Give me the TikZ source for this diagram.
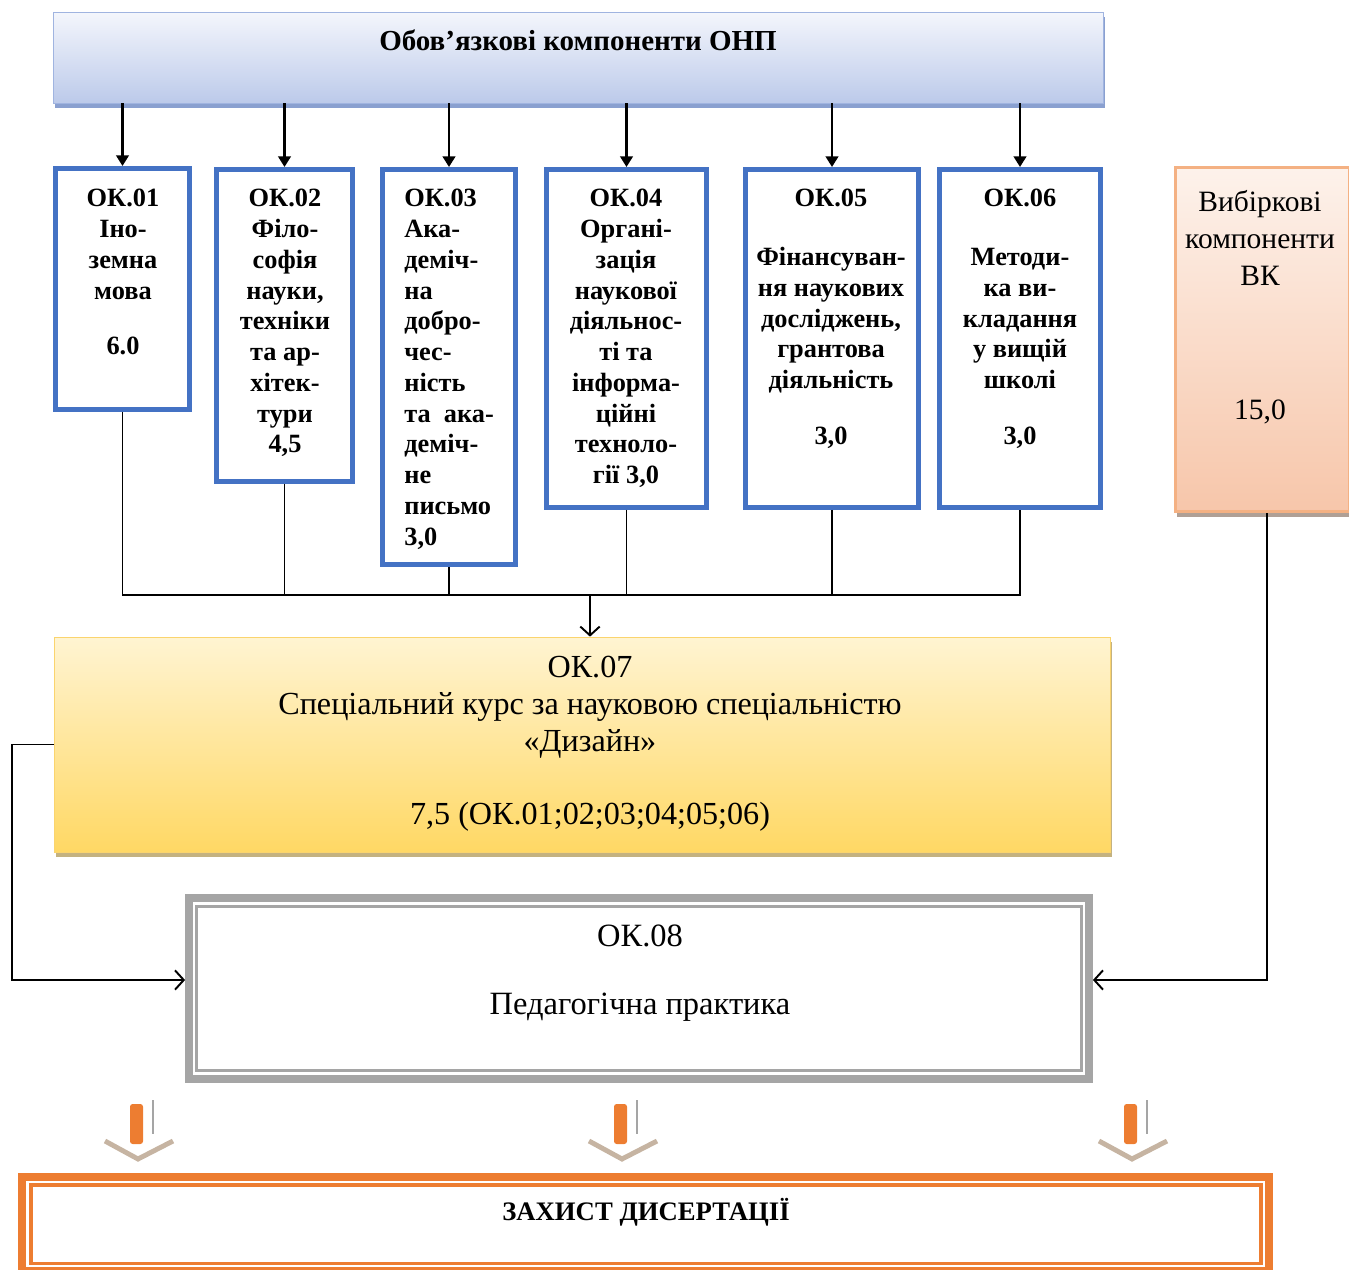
\documentclass[tikz,border=0pt]{standalone}
\usepackage{fontspec}
\setmainfont{Liberation Serif}
\usetikzlibrary{arrows.meta,shadows}
\definecolor{okblue}{RGB}{68,114,196}
\definecolor{toptop}{RGB}{244,246,252}
\definecolor{topbot}{RGB}{188,202,234}
\definecolor{topline}{RGB}{160,180,224}
\definecolor{topshade}{RGB}{138,160,208}
\definecolor{ylwtop}{RGB}{255,244,210}
\definecolor{ylwbot}{RGB}{255,216,100}
\definecolor{ylwline}{RGB}{250,212,110}
\definecolor{ylwshade}{RGB}{196,178,128}
\definecolor{vktop}{RGB}{253,242,235}
\definecolor{vkbot}{RGB}{247,198,170}
\definecolor{vkline}{RGB}{244,177,131}
\definecolor{vkshade}{RGB}{176,160,150}
\definecolor{okgrey}{RGB}{165,165,165}
\definecolor{orng}{RGB}{237,125,49}
\definecolor{chev}{RGB}{198,180,162}
\begin{document}
\begin{tikzpicture}[x=0.02cm,y=-0.02cm,
  okbox/.style={draw=okblue,line width=0.1cm,fill=white,inner sep=0pt},
  oktext/.style={anchor=north,align=center,inner sep=0pt,font=\fontsize{15}{17.5}\selectfont\bfseries},
  down/.style={line width=1.6pt,-{Triangle[length=6pt,width=7pt]}},
  link/.style={line width=0.8pt},
  barb/.style={line width=1.1pt,-{Straight Barb[length=5pt,width=11pt]}},
  stem/.style={fill=orng,rounded corners=1.5pt},
  stemline/.style={draw=okgrey,line width=1pt},
  chevron/.style={draw=chev,line width=2.8pt}]
\clip (0,0) rectangle (1349,1270);
\coordinate (bus) at (590,595);
\coordinate (inl) at (12,980);
\coordinate (inr) at (1267,980);

  \node (top) at (578,57.5) [draw=topline,top color=toptop,bottom color=topbot,minimum width=21cm,minimum height=1.82cm,
    drop shadow={shadow xshift=0.04cm,shadow yshift=-0.1cm,fill=topshade,opacity=1}] {};
  \node (title) at (578,40) [font=\fontsize{16.5}{19}\selectfont\bfseries] {Обов’язкові компоненти ОНП};

  \node (ok1) at (122.5,289) [okbox,minimum width=2.68cm,minimum height=4.82cm] {};
  \node (ok2) at (284.5,325.5) [okbox,minimum width=2.72cm,minimum height=6.24cm] {};
  \node (ok3) at (449,367) [okbox,minimum width=2.66cm,minimum height=7.9cm] {};
  \node (ok4) at (626.5,338.5) [okbox,minimum width=3.2cm,minimum height=6.76cm] {};
  \node (ok5) at (832,338.5) [okbox,minimum width=3.46cm,minimum height=6.76cm] {};
  \node (ok6) at (1020,338.5) [okbox,minimum width=3.22cm,minimum height=6.76cm] {};

  \node (ok1t) at (123,189) [oktext] {ОК.01\\Іно-\\земна\\мова\\[0.5cm]6.0};
  \node (ok2t) at (285,189) [oktext] {ОК.02\\Філо-\\софія\\науки,\\техніки\\та ар-\\хітек-\\тури\\4,5};
  \node (ok3t) at (404,189) [oktext,anchor=north west,align=left] {ОК.03\\Ака-\\деміч-\\на\\добро-\\чес-\\ність\\та\ \ ака-\\деміч-\\не\\письмо\\3,0};
  \node (ok4t) at (626,189) [oktext] {ОК.04\\Органі-\\зація\\наукової\\діяльнос-\\ті та\\інформа-\\ційні\\техноло-\\гії 3,0};
  \node (ok5t) at (831,189) [oktext] {ОК.05\\[0.56cm]Фінансуван-\\ня наукових\\досліджень,\\грантова\\діяльність\\[0.5cm]3,0};
  \node (ok6t) at (1020,189) [oktext] {ОК.06\\[0.56cm]Методи-\\ка ви-\\кладання\\у вищій\\школі\\[0.5cm]3,0};

  \node (vk) at (1262.5,339.5) [draw=vkline,line width=0.06cm,top color=vktop,bottom color=vkbot,minimum width=3.5cm,minimum height=6.9cm,
    drop shadow={shadow xshift=0.04cm,shadow yshift=-0.1cm,fill=vkshade,opacity=1}] {};
  \node (vkt) at (1260,190) [anchor=north,align=center,inner sep=0pt,font=\fontsize{16.8}{21}\selectfont] {Вибіркові\\компоненти\\ВК\\[1.94cm]15,0};

  \node (ok7) at (582,744.5) [draw=ylwline,top color=ylwtop,bottom color=ylwbot,minimum width=21.12cm,minimum height=4.3cm,
    drop shadow={shadow xshift=0.04cm,shadow yshift=-0.1cm,fill=ylwshade,opacity=1}] {};
  \node (ok7t) at (590,656) [anchor=north,align=center,inner sep=0pt,font=\fontsize{18.3}{21}\selectfont] {ОК.07\\Спеціальний курс за науковою спеціальністю\\«Дизайн»\\[0.72cm]7,5 (ОК.01;02;03;04;05;06)};

  \node (ok8) at (639,988.25) [draw=okgrey,line width=0.16cm,fill=white,minimum width=18cm,minimum height=3.63cm] {};
  \node (ok8in) at (639,988.5) [draw=okgrey,line width=0.06cm,minimum width=17.69cm,minimum height=3.3cm] {};
  \node (ok8t) at (640,925) [anchor=north,align=center,inner sep=0pt,font=\fontsize{18.5}{21}\selectfont] {ОК.08\\[0.62cm]Педагогічна практика};

  \node (def) at (645.5,1224) [draw=orng,line width=0.16cm,minimum width=24.94cm,minimum height=1.88cm] {};
  \node (defin) at (646,1224) [draw=orng,line width=0.07cm,minimum width=24.61cm,minimum height=1.57cm] {};
  \node (deft) at (646,1212) [font=\fontsize{15.2}{17}\selectfont\bfseries] {ЗАХИСТ ДИСЕРТАЦІЇ};

  \draw[down] (top.south -| ok1.north) to[] (ok1.north);
  \draw[down] (top.south -| ok2.north) to[] (ok2.north);
  \draw[down] (top.south -| ok3.north) to[] (ok3.north);
  \draw[down] (top.south -| ok4.north) to[] (ok4.north);
  \draw[down] (top.south -| ok5.north) to[] (ok5.north);
  \draw[down] (top.south -| ok6.north) to[] (ok6.north);

  \draw[link] (ok1.south) -- (ok1.south |- bus) -- (ok6.south |- bus) -- (ok6.south);
  \draw[link] (ok2.south) -- (ok2.south |- bus);
  \draw[link] (ok3.south) -- (ok3.south |- bus);
  \draw[link] (ok4.south) -- (ok4.south |- bus);
  \draw[link] (ok5.south) -- (ok5.south |- bus);
  \draw[barb] (bus) -- (bus |- ok7.north);

  \draw[barb] (ok7.west) -| (inl) -- (inl -| ok8.west);
  \draw[barb] (vk.south -| inr) -- (inr) -- (inr -| ok8.east);

  \fill[stem] (130,1104) rectangle (143,1144);
  \draw[stemline] (153,1100) -- (153,1134);
  \draw[chevron] (105,1141) -- (138,1159) -- (173,1141);
  \fill[stem] (614,1104) rectangle (627,1144);
  \draw[stemline] (637,1100) -- (637,1134);
  \draw[chevron] (589,1141) -- (622,1159) -- (657,1141);
  \fill[stem] (1124,1104) rectangle (1137,1144);
  \draw[stemline] (1147,1100) -- (1147,1134);
  \draw[chevron] (1099,1141) -- (1132,1159) -- (1167,1141);
\end{tikzpicture}
\end{document}
